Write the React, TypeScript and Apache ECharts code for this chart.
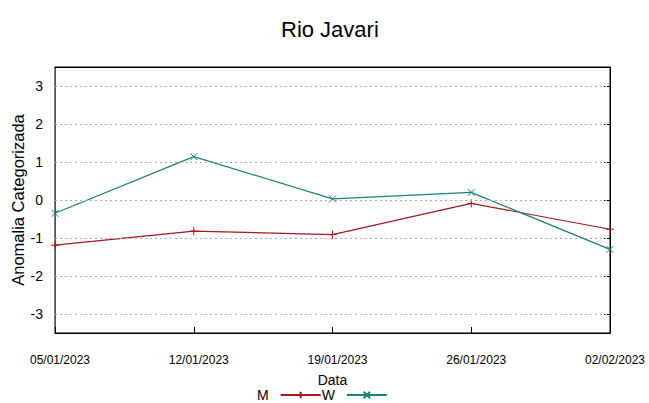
import React, { useEffect, useRef } from "react";
import * as echarts from "echarts";

const categories = ["05/01/2023", "12/01/2023", "19/01/2023", "26/01/2023", "02/02/2023"];
const seriesM = [-1.19, -0.82, -0.91, -0.09, -0.77];
const seriesW = [-0.35, 1.14, 0.03, 0.2, -1.3];
const yTicks = [-3, -2, -1, 0, 1, 2, 3];

const colorM = "#a31818";
const colorW = "#1b8080";
const plusPath = "path://M4,0L4,8M0,4L8,4";
const crossPath = "path://M0,0L8,8M8,0L0,8";

export default function App() {
  const ref = useRef<HTMLDivElement>(null);
  useEffect(() => {
    if (!ref.current) return;
    const chart = echarts.init(ref.current, undefined, { renderer: "svg" });
    const font = "Liberation Sans, Arial, sans-serif";
    chart.setOption({
      animation: false,
      backgroundColor: "#fff",
      textStyle: { fontFamily: font },
      title: {
        text: "Rio Javari",
        left: 276,
        top: 13,
        textStyle: { fontSize: 22, fontWeight: "normal", color: "#000", fontFamily: font },
      },
      grid: {
        left: 55,
        right: 39,
        top: 67,
        bottom: 70,
        show: true,
        borderColor: "#000",
        borderWidth: 1,
        containLabel: false,
        outerBoundsMode: "none",
      },
      legend: {
        left: 257,
        top: 388,
        padding: 0,
        align: "right",
        itemGap: 0,
        itemWidth: 40,
        itemHeight: 8,
        textStyle: { fontSize: 14, lineHeight: 14, color: "#000", fontFamily: font, padding: [0, 7, 0, 0] },
        data: ["M", "W"],
      },
      xAxis: [
        {
          type: "category",
          data: categories,
          boundaryGap: false,
          name: "Data",
          nameLocation: "middle",
          nameGap: 40,
          nameTextStyle: { fontSize: 14, color: "#000", fontFamily: font },
          axisLine: { onZero: false, lineStyle: { color: "#000" } },
          axisTick: { inside: true, length: 6, lineStyle: { color: "#000" } },
          axisLabel: {
            margin: 21,
            fontSize: 12,
            color: "#000",
            fontFamily: font,
            padding: [0, 0, 0, 10],
          },
          splitLine: { show: false },
        },
        {
          type: "category",
          data: categories,
          boundaryGap: false,
          position: "top",
          axisLine: { onZero: false, lineStyle: { color: "#000" } },
          axisTick: { show: false },
          axisLabel: { show: false },
          splitLine: { show: false },
        },
      ],
      yAxis: [
        {
          type: "value",
          min: -3.5,
          max: 3.5,
          name: "Anomalia Categorizada",
          nameLocation: "middle",
          nameGap: 29,
          nameMoveOverlap: false,
          nameTextStyle: { fontSize: 16.5, color: "#000", fontFamily: font },
          axisLine: { show: true, onZero: false, lineStyle: { color: "#555" } },
          axisTick: { show: false },
          axisLabel: {
            fontSize: 14,
            color: "#000",
            margin: 12,
            customValues: yTicks,
          },
          splitLine: { show: false },
        },
        {
          type: "value",
          min: -3.5,
          max: 3.5,
          position: "right",
          axisLine: { show: true, onZero: false, lineStyle: { color: "#000" } },
          axisTick: { show: true, inside: true, length: 6, customValues: yTicks, lineStyle: { color: "#000" } },
          axisLabel: { show: false },
          splitLine: { show: false },
        },
      ],
      series: [
        {
          name: "grid",
          type: "line",
          data: [],
          markLine: {
            silent: true,
            symbol: "none",
            label: { show: false },
            lineStyle: { color: "#aaa", type: [2, 3], width: 1 },
            data: yTicks.map((v) => ({ yAxis: v })),
          },
        },
        {
          name: "M",
          type: "line",
          data: seriesM,
          symbol: plusPath,
          symbolSize: 8,
          lineStyle: { color: colorM, width: 1.2 },
          itemStyle: { color: colorM, borderColor: colorM, borderWidth: 1 },
        },
        {
          name: "W",
          type: "line",
          data: seriesW,
          symbol: crossPath,
          symbolSize: 7,
          lineStyle: { color: colorW, width: 1.2 },
          itemStyle: { color: colorW, borderColor: colorW, borderWidth: 1 },
        },
      ],
    });
    return () => chart.dispose();
  }, []);
  return <div ref={ref} style={{ width: 649, height: 403, position: "absolute", left: 0, top: 0 }} />;
}
